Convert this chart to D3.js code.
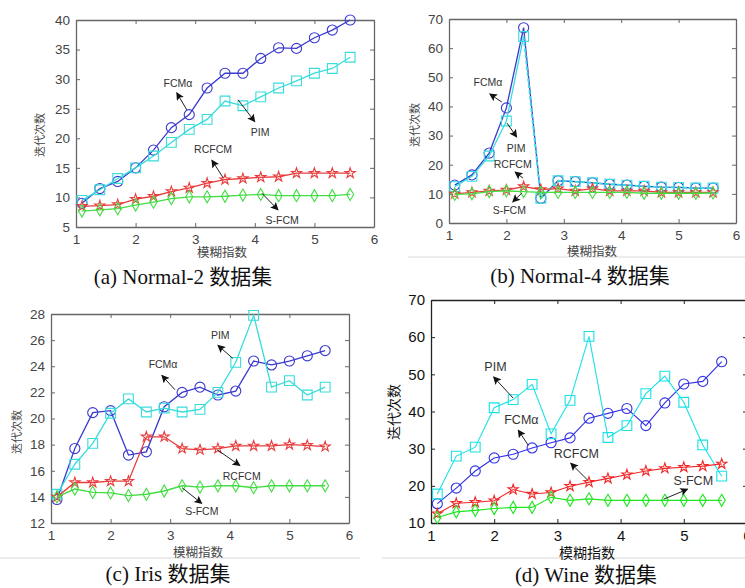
<!DOCTYPE html>
<html>
<head>
<meta charset="utf-8">
<script src="https://cdn.jsdelivr.net/npm/d3@7"></script>
<style>
body { margin: 0; background: #fff; }
</style>
</head>
<body>
<div id="chart"></div>
<script>
const WIDTH = 745;
const HEIGHT = 588;

// fuzzy index values (x axis)
const fuzzyIdx = [1.1, 1.4, 1.7, 2.0, 2.3, 2.6, 2.9, 3.2, 3.5, 3.8, 4.1, 4.4, 4.7, 5.0, 5.3, 5.6];
const seriesNames = ["FCMα", "PIM", "RCFCM", "S-FCM"];

// (a) Normal-2
const n2Fcma  = [9, 11.5, 12.7, 15, 18, 21.8, 24, 28.5, 31, 31, 33.5, 35.3, 35.2, 37, 38.3, 40];
const n2Pim   = [9.5, 11.3, 13.2, 15, 17, 19.3, 21.5, 23.2, 26.3, 25.5, 27, 28.5, 29.7, 31, 31.8, 33.7];
const n2Rcfcm = [8.5, 8.6, 8.8, 9.7, 10.2, 11, 11.6, 12.4, 13, 13.2, 13.4, 13.5, 14.1, 14.1, 14.1, 14.1];
const n2Sfcm  = [7.7, 7.9, 8.1, 8.7, 9.2, 9.8, 10.1, 10.1, 10.2, 10.4, 10.5, 10.3, 10.3, 10.3, 10.3, 10.5];

// (b) Normal-4
const n4Fcma  = [13, 16.5, 24, 39.5, 67, 8.5, 14.5, 14.2, 13.8, 13.3, 13, 12.6, 12.3, 12.2, 12, 12];
const n4Pim   = [12.5, 16, 23, 35, 64, 8.5, 14.5, 14.2, 13.8, 13.3, 13, 12.6, 12.3, 12.2, 12, 12];
const n4Rcfcm = [10, 10.5, 11, 11.3, 12.5, 11.5, 11.8, 11, 11.8, 11, 11, 11, 10.5, 10.5, 10.5, 10.5];
const n4Sfcm  = [9.8, 10, 10.8, 11, 10.8, 10.5, 10.5, 10.5, 10.5, 10.5, 10.5, 10.2, 10.2, 10.2, 10.2, 10.3];

// (c) Iris
const irisFcma  = [13.8, 17.7, 20.45, 20.6, 17.2, 17.45, 20.9, 22, 22.4, 21.8, 22.1, 24.4, 24.1, 24.4, 24.8, 25.2];
const irisPim   = [14.2, 16.5, 18.1, 20.4, 21.5, 20.5, 20.8, 20.5, 20.7, 22, 24.3, 27.9, 22.4, 22.9, 21.8, 22.4];
const irisRcfcm = [14, 15.1, 15.1, 15.2, 15.2, 18.6, 18.6, 17.7, 17.6, 17.7, 17.9, 17.9, 17.9, 18, 17.95, 17.85];
const irisSfcm  = [14, 14.6, 14.35, 14.3, 14.1, 14.2, 14.45, 14.85, 14.75, 14.85, 14.85, 14.7, 14.85, 14.85, 14.85, 14.85];

// (d) Wine
const wineFcma  = [15.2, 19.4, 24, 27.5, 28.5, 30.2, 31.6, 32.9, 38.2, 39.5, 40.8, 36.2, 42.3, 47.4, 48.1, 53.4];
const winePim   = [17.8, 28, 30.4, 41, 43.2, 47.3, 34, 43, 60.2, 33, 36.2, 44.8, 49.5, 42.5, 31, 22.6];
const wineRcfcm = [12.5, 15.3, 15.6, 16, 19, 17.8, 18.2, 19.9, 21, 22, 23, 24, 24.7, 25, 25.3, 25.9];
const wineSfcm  = [11.5, 13, 13.4, 13.9, 14.2, 14.2, 16.9, 16.1, 16.5, 16.1, 16.1, 16.1, 16.1, 16.1, 16.1, 16.1];

const xTicks = [1, 2, 3, 4, 5, 6];
const n2Ticks = [5, 10, 15, 20, 25, 30, 35, 40];
const n4Ticks = [0, 10, 20, 30, 40, 50, 60, 70];
const irisTicks = [12, 14, 16, 18, 20, 22, 24, 26, 28];
const wineTicks = [10, 20, 30, 40, 50, 60, 70];

const captions = ["(a) Normal-2 数据集", "(b) Normal-4 数据集", "(c) Iris 数据集", "(d) Wine 数据集"];

const symbols = [d3.symbolCircle, d3.symbolSquare, d3.symbolStar, d3.symbolDiamond];
const symbolSizes = [80, 95, 32, 42];

// style for the three scanned panels vs the clean one
const styleOld = {
  colors: ["#3a3ad0", "#38dcdc", "#e83c3c", "#44dd44"],
  axis: "#666", tick: "#444", tickFont: 13.5, noteFont: 10.5, labFont: 12.5, yLabFont: 11, lw: 1.3
};
const styleNew = {
  colors: ["#3232e6", "#19e1e6", "#f02828", "#1ee61e"],
  axis: "#222", tick: "#111", tickFont: 15, noteFont: 12.5, labFont: 14, yLabFont: 14, lw: 1.1
};

// annotations in data units: label pos, arrow tail, arrow head
const panels = [
  {
    box: [76, 20, 374, 227], yDomain: [5, 40], yTicks: n2Ticks,
    series: [n2Fcma, n2Pim, n2Rcfcm, n2Sfcm], style: styleOld,
    caption: [183, 284], xLab: [222, 254], yLab: [41, 135],
    notes: [
      [2.71, 29.2, 2.86, 24.8, 2.69, 27.7],
      [4.09, 20.9, 3.72, 26.5, 4.0, 22.8],
      [3.30, 17.9, 3.47, 13.3, 3.28, 16.3],
      [4.46, 6.0, 4.12, 10.7, 4.39, 7.9]
    ]
  },
  {
    box: [449, 19, 736, 223], yDomain: [0, 70], yTicks: n4Ticks,
    series: [n4Fcma, n4Pim, n4Rcfcm, n4Sfcm], style: styleOld, dashFrom: 4,
    caption: [580, 283], xLab: [592, 253], yLab: [416, 125],
    notes: [
      [1.68, 47.9, 1.92, 41.5, 1.71, 44.3],
      [2.17, 25.4, 2.01, 34.3, 2.18, 29.5],
      [2.11, 19.9, 2.29, 15.4, 2.15, 17.5],
      [2.05, 4.1, 2.27, 10.3, 2.11, 7.2]
    ]
  },
  {
    box: [51, 314, 349, 523], yDomain: [12, 28], yTicks: irisTicks,
    series: [irisFcma, irisPim, irisRcfcm, irisSfcm], style: styleOld,
    caption: [168, 581], xLab: [198, 554], yLab: [18, 432],
    notes: [
      [2.88, 24.1, 3.08, 22.2, 2.86, 23.3],
      [3.84, 26.3, 4.05, 24.6, 3.80, 25.6],
      [4.20, 15.5, 3.79, 17.6, 4.17, 16.4],
      [3.53, 12.8, 3.20, 14.7, 3.53, 13.5]
    ]
  },
  {
    box: [431, 300, 747, 523], yDomain: [10, 70], yTicks: wineTicks,
    series: [wineFcma, winePim, wineRcfcm, wineSfcm], style: styleNew,
    caption: [586, 582], xLab: [587, 554], yLab: [395, 412],
    notes: [
      [2.43, 37.4, 2.54, 30.9, 2.38, 35.0],
      [2.02, 51.7, 2.30, 43.6, 1.99, 49.3],
      [3.30, 28.5, 3.48, 21.5, 3.21, 26.1],
      [5.15, 21.2, 4.68, 16.4, 5.06, 19.1]
    ]
  }
];

const svg = d3.select("#chart").append("svg")
  .attr("width", WIDTH)
  .attr("height", HEIGHT)
  .style("display", "block");

svg.append("defs").append("marker")
  .attr("id", "arrow")
  .attr("viewBox", "0 0 10 10")
  .attr("refX", 9).attr("refY", 5)
  .attr("markerWidth", 9).attr("markerHeight", 8)
  .attr("markerUnits", "userSpaceOnUse")
  .attr("orient", "auto")
  .append("path")
  .attr("d", "M0,0 L10,5 L0,10 L2,5 Z")
  .attr("fill", "#111");

// faint scan separators
[[408, 257, 745], [0, 558, 360], [382, 558, 745]].forEach(function (s) {
  svg.append("line")
    .attr("x1", s[0]).attr("x2", s[2]).attr("y1", s[1]).attr("y2", s[1])
    .attr("stroke", "#ececec").attr("stroke-width", 2);
});

var drawPanel = function (p, pi) {
  const st = p.style;
  const g = svg.append("g");
  const x = d3.scaleLinear().domain([1, 6]).range([p.box[0], p.box[2]]);
  const y = d3.scaleLinear().domain(p.yDomain).range([p.box[3], p.box[1]]);
  const fmt = d3.format("d");

  // axes, MATLAB box style with inward ticks
  const bottom = g.append("g").attr("transform", "translate(0," + p.box[3] + ")")
    .call(d3.axisBottom(x).tickValues(xTicks).tickFormat(fmt).tickSizeInner(-4).tickSizeOuter(0).tickPadding(7));
  const left = g.append("g").attr("transform", "translate(" + p.box[0] + ",0)")
    .call(d3.axisLeft(y).tickValues(p.yTicks).tickFormat(fmt).tickSizeInner(-4).tickSizeOuter(0).tickPadding(6));
  g.append("g").attr("transform", "translate(0," + p.box[1] + ")")
    .call(d3.axisTop(x).tickValues(xTicks).tickSizeInner(-4).tickSizeOuter(0).tickFormat(""));
  g.append("g").attr("transform", "translate(" + p.box[2] + ",0)")
    .call(d3.axisRight(y).tickValues(p.yTicks).tickSizeInner(-4).tickSizeOuter(0).tickFormat(""));

  g.selectAll(".domain").attr("stroke", st.axis).attr("stroke-width", 1.3);
  g.selectAll(".tick line").attr("stroke", st.axis);
  [bottom, left].forEach(function (a) {
    a.selectAll("text")
      .attr("fill", st.tick)
      .style("font-family", "'Liberation Sans', Arial, sans-serif")
      .style("font-size", st.tickFont + "px");
  });

  const line = d3.line()
    .x(function (d) { return x(d[0]); })
    .y(function (d) { return y(d[1]); });

  p.series.forEach(function (vals, si) {
    const pts = vals.map(function (v, i) { return [fuzzyIdx[i], v]; });
    const col = st.colors[si];
    if (p.dashFrom !== undefined && si < 2) {
      g.append("path").attr("d", line(pts.slice(0, p.dashFrom + 1)))
        .attr("fill", "none").attr("stroke", col).attr("stroke-width", st.lw);
      g.append("path").attr("d", line(pts.slice(p.dashFrom)))
        .attr("fill", "none").attr("stroke", col).attr("stroke-width", si === 1 ? 1.8 : st.lw)
        .attr("stroke-dasharray", si === 1 ? "4,2" : null);
    } else {
      g.append("path").attr("d", line(pts))
        .attr("fill", "none").attr("stroke", col).attr("stroke-width", st.lw);
    }
    g.selectAll(".m" + si).data(pts).enter().append("path")
      .attr("class", "m" + si)
      .attr("transform", function (d) { return "translate(" + x(d[0]) + "," + y(d[1]) + ")"; })
      .attr("d", d3.symbol().type(symbols[si]).size(symbolSizes[si]))
      .attr("fill", "none").attr("stroke", col).attr("stroke-width", 1.1);
  });

  // arrows and labels
  p.notes.forEach(function (n, ni) {
    g.append("line")
      .attr("x1", x(n[2])).attr("y1", y(n[3]))
      .attr("x2", x(n[4])).attr("y2", y(n[5]))
      .attr("stroke", "#222").attr("stroke-width", 1)
      .attr("marker-end", "url(#arrow)");
    g.append("text")
      .attr("x", x(n[0])).attr("y", y(n[1]))
      .attr("text-anchor", "middle").attr("dominant-baseline", "middle")
      .attr("fill", "#333")
      .style("font-family", "'Liberation Sans', Arial, sans-serif")
      .style("font-size", st.noteFont + "px")
      .text(seriesNames[ni]);
  });

  g.append("text")
    .attr("x", p.xLab[0]).attr("y", p.xLab[1])
    .attr("text-anchor", "middle").attr("dominant-baseline", "middle")
    .attr("fill", st.tick)
    .style("font-family", "'Noto Sans CJK SC', sans-serif")
    .style("font-size", st.labFont + "px")
    .text("模糊指数");

  g.append("text")
    .attr("transform", "translate(" + p.yLab[0] + "," + p.yLab[1] + ") rotate(-90)")
    .attr("text-anchor", "middle").attr("dominant-baseline", "middle")
    .attr("fill", st.tick)
    .style("font-family", "'Noto Sans CJK SC', sans-serif")
    .style("font-size", st.yLabFont + "px")
    .text("迭代次数");

  svg.append("text")
    .attr("x", p.caption[0]).attr("y", p.caption[1])
    .attr("text-anchor", "middle")
    .attr("fill", "#111")
    .style("font-family", "'Liberation Serif', 'Times New Roman', 'Noto Sans CJK SC', serif")
    .style("font-size", "21px")
    .text(captions[pi]);
};

panels.forEach(drawPanel);
</script>
</body>
</html>
